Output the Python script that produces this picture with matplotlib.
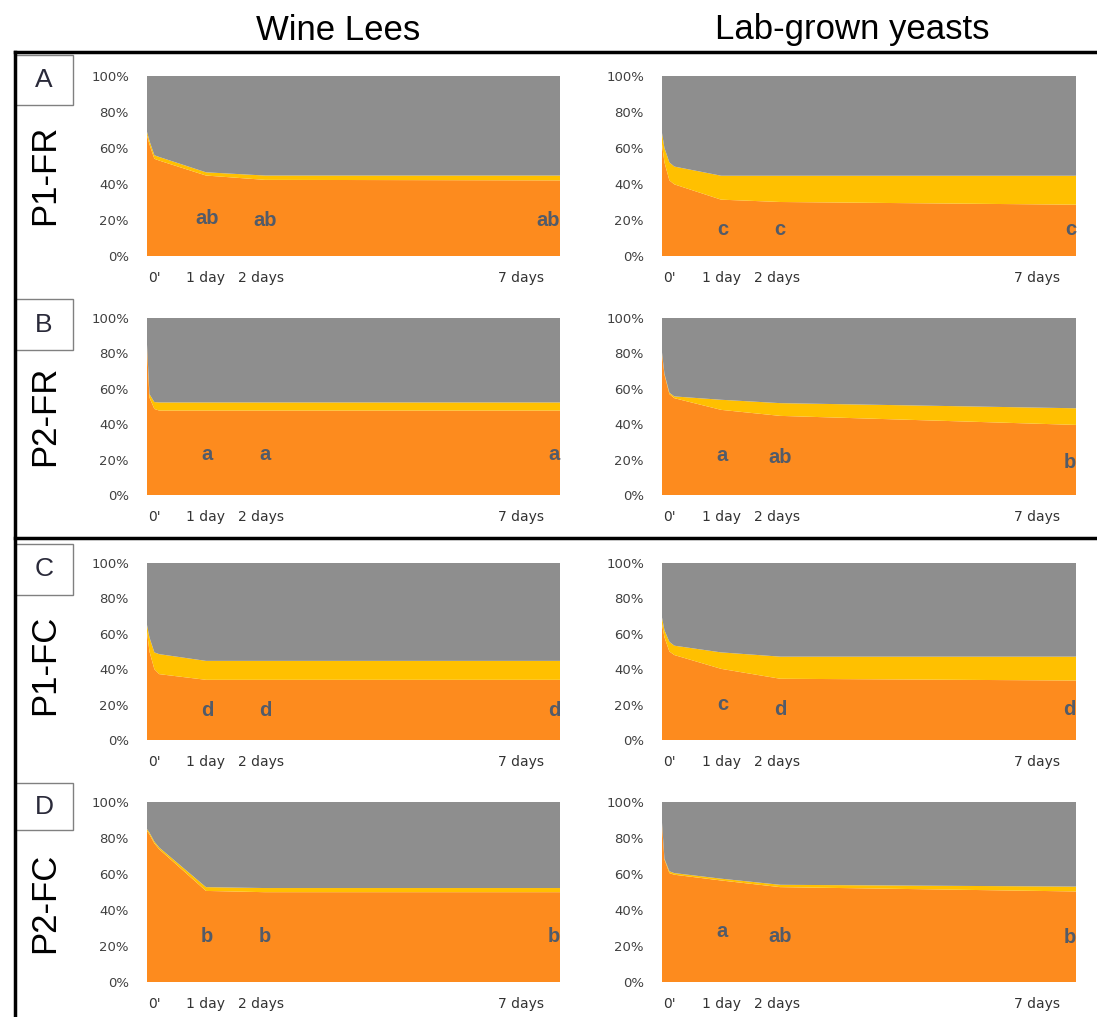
import matplotlib
matplotlib.use("Agg")
import matplotlib.pyplot as plt
from matplotlib.lines import Line2D
from matplotlib.patches import Rectangle

# sampling times in hours
hours = [0, 1, 3, 5, 24, 48, 168]

# percentages per panel: orange (bottom), yellow (middle); gray fills to 100%
lees_p1fr_orange = [67, 62, 54, 53, 44.7, 42.3, 42]
lees_p1fr_yellow = [2, 2, 2, 2, 1.8, 2.4, 2.7]
yeast_p1fr_orange = [62, 52, 42, 39.8, 31.3, 30, 28.5]
yeast_p1fr_yellow = [6.3, 8, 10, 9.9, 13.3, 14.6, 16.1]

lees_p2fr_orange = [84, 55, 48.6, 47.7, 47.7, 47.7, 47.7]
lees_p2fr_yellow = [1, 2, 3.9, 4.6, 4.6, 4.6, 4.6]
yeast_p2fr_orange = [80, 68, 57, 54.7, 48.1, 44.7, 39.6]
yeast_p2fr_yellow = [0.5, 0.5, 0.8, 1, 5.7, 7.2, 9.4]

lees_p1fc_orange = [61, 50, 40, 37.2, 34, 34, 34]
lees_p1fc_yellow = [4, 8, 9.5, 11.3, 10.7, 10.7, 10.7]
yeast_p1fc_orange = [65.4, 58, 50, 48, 40.2, 34.6, 33.6]
yeast_p1fc_yellow = [3.8, 4, 5.5, 5.3, 9.3, 12.5, 13.5]

lees_p2fc_orange = [84, 82, 77, 73.7, 50.6, 49.9, 49.9]
lees_p2fc_yellow = [1, 1, 1, 1, 2.1, 2.3, 2.3]
yeast_p2fc_orange = [88, 68, 60.5, 59.6, 56.4, 52.7, 50.3]
yeast_p2fc_yellow = [0.5, 0.5, 1, 0.9, 1, 1.3, 2.7]

col_titles = ["Wine Lees", "Lab-grown yeasts"]
row_titles = ["P1-FR", "P2-FR", "P1-FC", "P2-FC"]
row_letters = ["A", "B", "C", "D"]
tick_names = ["0'", "1 day", "2 days", "7 days"]

# significance letters at 1 day, 2 days, 7 days
lees_letters = [["ab", "ab", "ab"], ["a", "a", "a"], ["d", "d", "d"], ["b", "b", "b"]]
yeast_letters = [["c", "c", "c"], ["a", "ab", "b"], ["c", "d", "d"], ["a", "ab", "b"]]
lees_letter_y = [[21, 20, 20], [23, 23, 23], [16.5, 16.5, 16.5], [25, 25, 25]]
yeast_letter_y = [[15, 15, 15], [22.5, 21, 18.5], [20, 17, 17], [28, 25.5, 24.5]]

panels = [
    [(lees_p1fr_orange, lees_p1fr_yellow), (yeast_p1fr_orange, yeast_p1fr_yellow)],
    [(lees_p2fr_orange, lees_p2fr_yellow), (yeast_p2fr_orange, yeast_p2fr_yellow)],
    [(lees_p1fc_orange, lees_p1fc_yellow), (yeast_p1fc_orange, yeast_p1fc_yellow)],
    [(lees_p2fc_orange, lees_p2fc_yellow), (yeast_p2fc_orange, yeast_p2fc_yellow)],
]

ORANGE = "#fd8b1e"
YELLOW = "#ffc000"
GRAY = "#8e8e8e"
LETTER = "#525b69"

W, H = 1097, 1017
fig = plt.figure(figsize=(W / 100, H / 100), dpi=100)
small = ["DejaVu Sans"]
arial = ["Liberation Sans", "DejaVu Sans"]

col_x = [(147, 560), (662, 1076)]
row_y = [(76, 256), (318, 495), (563, 740), (802, 982)]
tick_pos = [3, 24, 46.5, 152]

for r in range(4):
    for c in range(2):
        x0, x1 = col_x[c]
        y0, y1 = row_y[r]
        ax = fig.add_axes([x0 / W, 1 - y1 / H, (x1 - x0) / W, (y1 - y0) / H])
        orange, yellow = panels[r][c]
        gray = [100 - o - y for o, y in zip(orange, yellow)]
        ax.stackplot(hours, orange, yellow, gray,
                     colors=[ORANGE, YELLOW, GRAY], linewidth=0)
        ax.set_xlim(0, 168)
        ax.set_ylim(0, 100)
        ax.set_yticks([0, 20, 40, 60, 80, 100])
        ax.set_yticklabels(["0%", "20%", "40%", "60%", "80%", "100%"],
                           family=small, fontsize=9.5, color="#404040")
        ax.set_xticks(tick_pos)
        ax.set_xticklabels(tick_names, family=small, fontsize=10, color="#333333")
        ax.tick_params(axis="y", length=0, pad=13)
        ax.tick_params(axis="x", length=0, pad=11)
        for s in ax.spines.values():
            s.set_visible(False)

        letters = lees_letters[r] if c == 0 else yeast_letters[r]
        ly = lees_letter_y[r] if c == 0 else yeast_letter_y[r]
        lx = [24.5, 48, 168]
        for i in range(3):
            ax.text(lx[i], ly[i], letters[i], ha="right" if i == 2 else "center",
                    va="center", fontsize=14.5, fontweight="bold", color=LETTER,
                    family=arial)

# column titles
fig.text(338 / W, 1 - 30 / H, col_titles[0], ha="center", va="center",
         fontsize=25, family=arial)
fig.text(852 / W, 1 - 30 / H, col_titles[1], ha="center", va="center",
         fontsize=25, family=arial)

# row labels and boxed letters
label_cy = [175, 416, 665, 903]
box_y = [(55, 105), (299, 350), (544, 595), (783, 830)]
for r in range(4):
    fig.text(45 / W, 1 - label_cy[r] / H, row_titles[r], rotation=90,
             ha="center", va="center", fontsize=25, family=arial)
    by0, by1 = box_y[r]
    fig.add_artist(Rectangle((15 / W, 1 - by1 / H), 58 / W, (by1 - by0) / H,
                             transform=fig.transFigure, fill=False,
                             edgecolor="#808080", lw=1))
    fig.text(44 / W, 1 - (by0 + by1) / 2 / H, row_letters[r], ha="center",
             va="center", fontsize=19, family=arial, color="#2a2a3a")

# frame lines
fig.add_artist(Line2D([15 / W, 1], [1 - 52 / H, 1 - 52 / H], color="black", lw=2.5))
fig.add_artist(Line2D([15 / W, 1], [1 - 538 / H, 1 - 538 / H], color="black", lw=2.5))
fig.add_artist(Line2D([15 / W, 15 / W], [0, 1 - 52 / H], color="black", lw=2.5))

fig.savefig("out.png", dpi=100)
